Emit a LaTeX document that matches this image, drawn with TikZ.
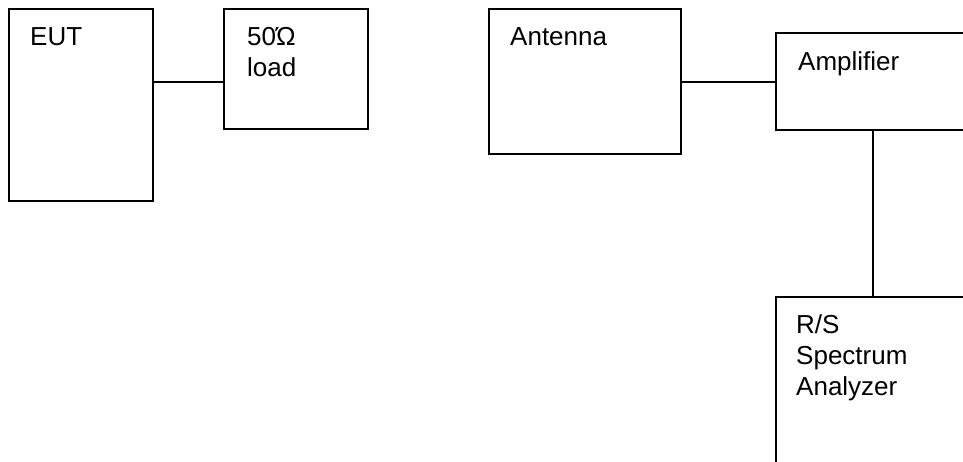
\documentclass[tikz,border=0pt]{standalone}
\usepackage{fontspec}
\setmainfont{Liberation Sans}
\usetikzlibrary{calc}
\begin{document}
\begin{tikzpicture}[x=1pt,y=-1pt,
  box/.style={draw, line width=1.3pt, inner sep=0pt, outer sep=0pt, anchor=north west},
  lbl/.style={anchor=base west, inner sep=0pt, font=\fontsize{26}{31}\selectfont, align=left, text width=180pt},
  wire/.style={line width=1.3pt}]
\useasboundingbox (0,0) rectangle (963,461);
\clip (0,0) rectangle (963,461);
\node[box, minimum width=144pt, minimum height=192pt] (eut) at (9,9) {};
\node[box, minimum width=144pt, minimum height=120pt] (load) at (224,9) {};
\node[box, minimum width=192pt, minimum height=145pt] (ant) at (489,9) {};
\node[box, minimum width=300pt, minimum height=97pt] (amp) at (776,33) {};
\node[box, minimum width=300pt, minimum height=300pt] (sa) at (776,297) {};
\node[lbl] (eutl) at ($(eut.north west)+(21,36)$) {EUT};
\node[lbl] (loadl) at ($(load.north west)+(23,36)$) {50Ώ\\load};
\node[lbl] (antl) at ($(ant.north west)+(21,36)$) {Antenna};
\node[lbl] (ampl) at ($(amp.north west)+(22,37)$) {Amplifier};
\node[lbl] (sal) at ($(sa.north west)+(20,36)$) {R/S\\Spectrum\\Analyzer};
\draw[wire] (eut.east |- 0,82) -- (load.west |- 0,82);
\draw[wire] (ant.east |- 0,82) -- (amp.west |- 0,82);
\draw[wire] (amp.south -| 873,0) -- (sa.north -| 873,0);
\end{tikzpicture}
\end{document}
